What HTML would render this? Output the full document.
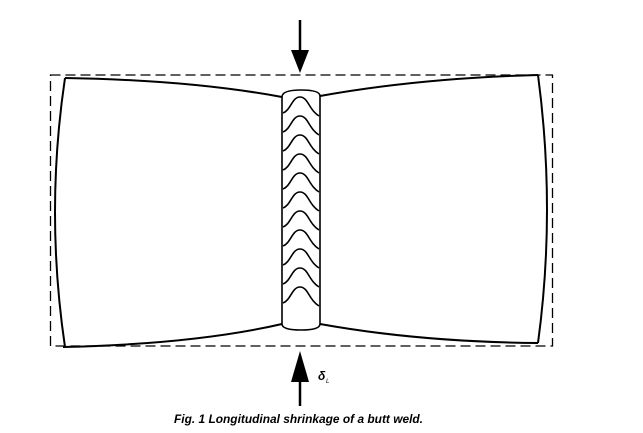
<!DOCTYPE html>
<html><head><style>
html,body{margin:0;padding:0;background:#fff;width:643px;height:433px;overflow:hidden}
svg{display:block}
</style></head><body>
<svg width="643" height="433" viewBox="0 0 643 433" xmlns="http://www.w3.org/2000/svg">
<rect x="50.5" y="75" width="502" height="271" fill="none" stroke="#000" stroke-width="1.3" stroke-dasharray="10,5"/>
<g fill="none" stroke="#000" stroke-width="2">
<path d="M65,78 Q190,80 282,97"/>
<path d="M320,96 Q420,78 538,75"/>
<path d="M63,347 Q195,344 282,324"/>
<path d="M320,324 Q420,342 538,343"/>
<path d="M65,78 Q45,212 65,347"/>
<path d="M538,75 Q556,210 538,343"/>
</g>
<g fill="none" stroke="#000" stroke-width="1.6">
<path d="M282,97 Q282,90 301,90 Q320,90 320,96 L320,324 Q320,330 301,330 Q282,330 282,324 Z"/>
<path id="w" d="M283,113 C291,110 292,97 300,97 C308,97 309,110 319,116"/>
<use href="#w" transform="translate(0,19)"/>
<use href="#w" transform="translate(0,38)"/>
<use href="#w" transform="translate(0,57)"/>
<use href="#w" transform="translate(0,76)"/>
<use href="#w" transform="translate(0,95)"/>
<use href="#w" transform="translate(0,114)"/>
<use href="#w" transform="translate(0,133)"/>
<use href="#w" transform="translate(0,152)"/>
<use href="#w" transform="translate(0,171)"/>
<use href="#w" transform="translate(0,190)"/>
</g>
<line x1="300" y1="20" x2="300" y2="52" stroke="#000" stroke-width="2.5"/>
<polygon points="291,50 309,50 300,73" fill="#000"/>
<line x1="300" y1="378" x2="300" y2="406" stroke="#000" stroke-width="2.5"/>
<polygon points="291,382 309,382 300,351" fill="#000"/>
<text x="318" y="380" font-family="Liberation Sans, sans-serif" font-size="12" font-style="italic" font-weight="bold">δ</text>
<text x="326" y="383" font-family="Liberation Sans, sans-serif" font-size="6" font-style="italic">L</text>
<text x="174" y="423" font-family="Liberation Sans, sans-serif" font-size="12" font-style="italic" font-weight="bold" textLength="249" lengthAdjust="spacingAndGlyphs">Fig. 1  Longitudinal shrinkage of a butt weld.</text>
</svg>
</body></html>
